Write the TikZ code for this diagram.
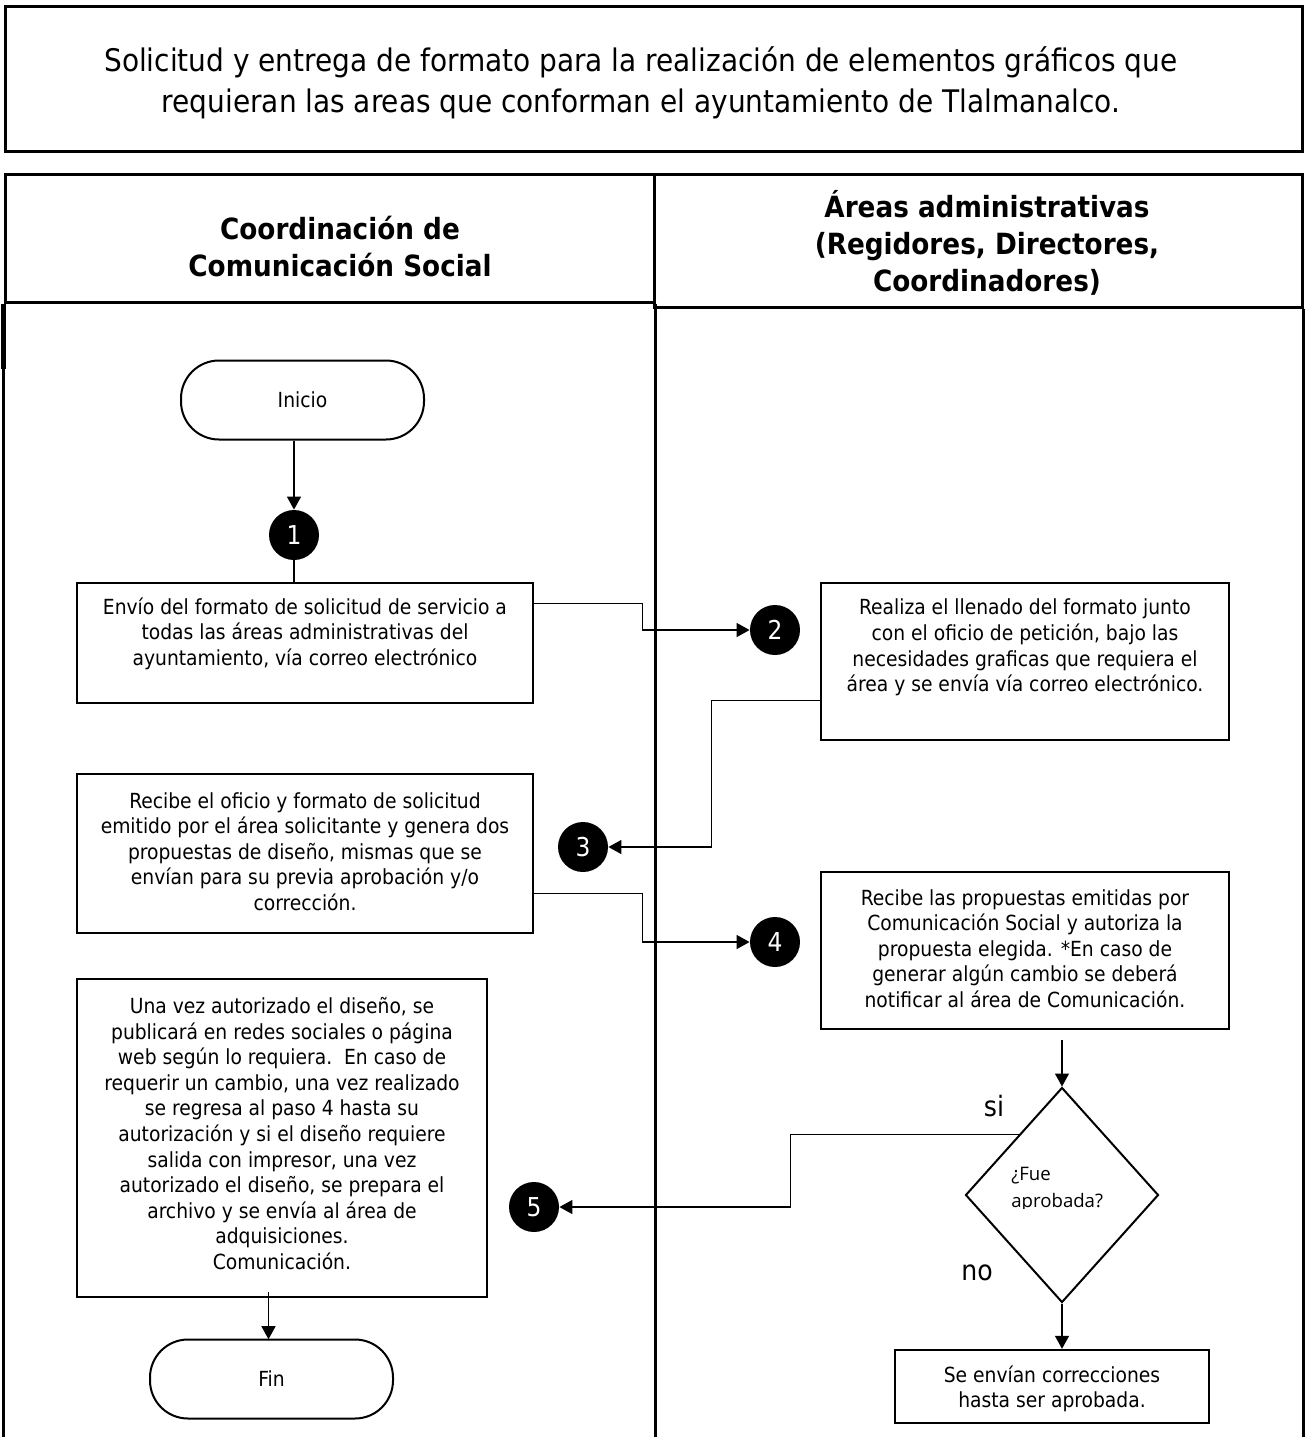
\documentclass[tikz,border=0pt]{standalone}
\usepackage{fontspec}
\setmainfont{DejaVu Sans Condensed}
\newfontfamily\qfont{Open Sans}
\usetikzlibrary{arrows.meta,shapes.geometric,fit,calc}
\begin{document}
\begin{tikzpicture}[x=0.5pt,y=-0.5pt,
  frame/.style={draw, line width=1.5pt, inner sep=0pt},
  stepbox/.style={draw, line width=1.2pt, inner sep=0pt},
  term/.style={draw, line width=1pt, rounded corners=19pt, minimum width=121.5pt,
    minimum height=39.5pt, inner sep=0pt, font=\fontsize{10.4}{12.75}\selectfont},
  txt/.style={align=center, inner sep=0pt, font=\fontsize{10.4}{12.8}\selectfont},
  head/.style={align=center, inner sep=0pt, font=\bfseries\fontsize{14.6}{18.5}\selectfont},
  num/.style={circle, fill=black, minimum size=25pt, inner sep=0pt, text=white,
    font=\fontsize{13}{15}\selectfont},
  lab/.style={inner sep=0pt, font=\fontsize{14}{16}\selectfont},
  lane/.style={line width=1.1pt},
  conn/.style={line width=0.65pt},
  arr/.style={conn, -{Triangle[length=6.5pt,width=7pt]}},
]
\useasboundingbox (0,0) rectangle (1308,1437);

% title frame
\node[frame, fit={(5,6) (1302,151)}] (titlebox) {};
\node[txt, font=\fontsize{15.55}{20.3}\selectfont] (title) at (641,83)
  {Solicitud y entrega de formato para la realización de elementos gráficos que\\
   requieran las areas que conforman el ayuntamiento de Tlalmanalco.};

% swimlane headers
\node[frame, fit={(5,174) (654,302)}] (hl) {};
\node[frame, fit={(654,174) (1302,307)}] (hr) {};
\node[head] (hlt) at (340,246.5) {Coordinación de\\Comunicación Social};
\node[head] (hrt) at (987,242.5) {Áreas administrativas\\(Regidores, Directores,\\Coordinadores)};

% swimlane bodies
\draw[lane] (hl.south west) -- (hl.south west |- 0,1437);
\draw[line width=2.2pt] (hl.south west) -- ++(0,65);
\draw[lane] (hl.south east) -- (hl.south east |- 0,1437);
\draw[lane] (hr.south east) -- (hr.south east |- 0,1437);

% terminators
\node[term] (ini) at (302.5,400) {Inicio};
\node[term] (fin) at (271.5,1379) {Fin};

% step numbers
\node[num] (c1) at (294,535) {1};
\node[num] (c2) at (775,630) {2};
\node[num] (c3) at (583,847) {3};
\node[num] (c4) at (775,942) {4};
\node[num] (c5) at (534,1207) {5};

% process boxes
\node[stepbox, fit={(77,583) (533,703)}] (b1) {};
\node[txt] (t1) at (305,633.5) {Envío del formato de solicitud de servicio a\\
  todas las áreas administrativas del\\ayuntamiento, vía correo electrónico};

\node[stepbox, fit={(821,583) (1229,740)}] (b2) {};
\node[txt] (t2) at (1025,647.5) {Realiza el llenado del formato junto\\
  con el oficio de petición, bajo las\\necesidades graficas que requiera el\\
  área y se envía vía correo electrónico.};

\node[stepbox, fit={(77,774) (533,933)}] (b3) {};
\node[txt] (t3) at (305,851.5) {Recibe el oficio y formato de solicitud\\
  emitido por el área solicitante y genera dos\\propuestas de diseño, mismas que se\\
  envían para su previa aprobación y/o\\corrección.};

\node[stepbox, fit={(821,872) (1229,1029)}] (b4) {};
\node[txt] (t4) at (1025,948.5) {Recibe las propuestas emitidas por\\
  Comunicación Social y autoriza la\\propuesta elegida. *En caso de\\
  generar algún cambio se deberá\\notificar al área de Comunicación.};

\node[stepbox, fit={(77,979) (487,1297)}] (b5) {};
\node[txt] (t5) at (282,1133.5) {Una vez autorizado el diseño, se\\
  publicará en redes sociales o página\\web según lo requiera.\ \ En caso de\\
  requerir un cambio, una vez realizado\\se regresa al paso 4 hasta su\\
  autorización y si el diseño requiere\\salida con impresor, una vez\\
  autorizado el diseño, se prepara el\\archivo y se envía al área de\\
  adquisiciones.\\Comunicación.};

\node[stepbox, fit={(895,1350) (1209,1423)}] (b6) {};
\node[txt] (t6) at (1052,1389) {Se envían correcciones\\hasta ser aprobada.};

% decision
\node[diamond, draw, line width=1pt, inner sep=0pt, aspect=0.9,
  minimum width=96.5pt, minimum height=107.5pt] (d) at (1062,1195) {};
\begin{scope}
  \clip (990,1150) rectangle (1140,1208);
  \node[inner sep=0pt, align=left, anchor=base west,
    font=\qfont\fontsize{9.3}{13.5}\selectfont]
    (q) at (1011,1207) {¿Fue\\aprobada?};
\end{scope}
\node[lab] (si) at (994,1106) {si};
\node[lab] (no) at (977,1273) {no};

% connectors
\draw[arr] (ini.south -| c1) -- (c1.north);
\draw[conn] (c1.south) -- (c1.south |- b1.north);
\draw[arr] ($(b1.north east)+(0,22)$) -- ++(108,0) |- (c2.west);
\draw[arr] ($(b2.north west)+(0,119)$) -- ++(-108,0) |- (c3.east);
\draw[arr] ($(b3.north east)+(0,121)$) -- ++(108,0) |- (c4.west);
\draw[arr] ($(b4.south -| d.north)+(0,10)$) -- (d.north);
\draw[arr] ($(d.north)!0.445!(d.west)$) -- ++(-228,0) |- (c5.east);
\draw[arr] (d.south) -- (d.south |- b6.north);
\draw[arr] ($(fin.north |- b5.south)+(-3,-6)$) -- ++(0,47);
\end{tikzpicture}
\end{document}
